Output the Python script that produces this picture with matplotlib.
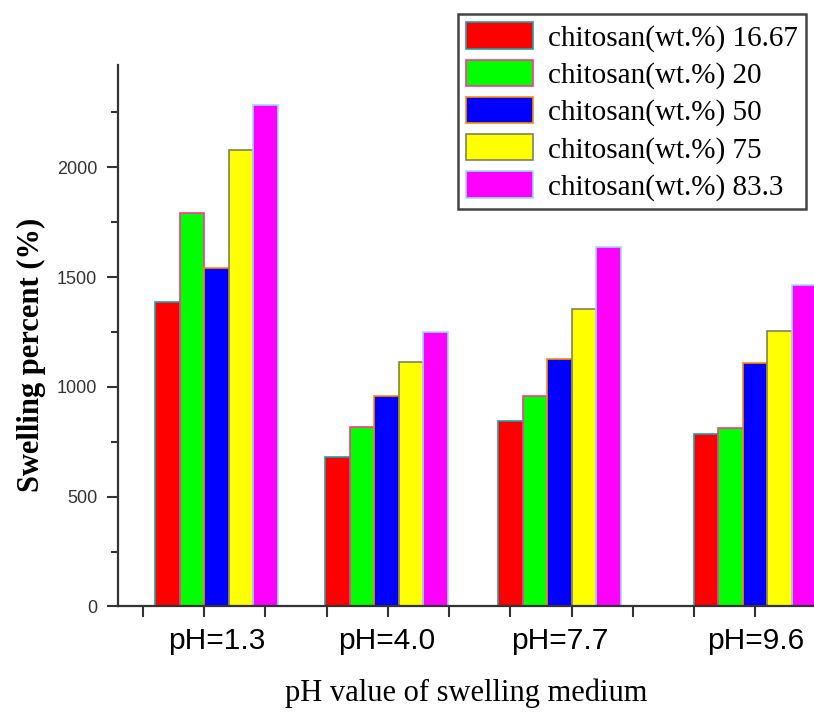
import numpy as np
import matplotlib
matplotlib.use('Agg')
import matplotlib.pyplot as plt
from matplotlib.ticker import MultipleLocator, FixedLocator, NullFormatter

categories = ['pH=1.3', 'pH=4.0', 'pH=7.7', 'pH=9.6']
series_labels = ['chitosan(wt.%) 16.67', 'chitosan(wt.%) 20', 'chitosan(wt.%) 50',
                 'chitosan(wt.%) 75', 'chitosan(wt.%) 83.3']
chitosan_16_67 = [1385, 682, 845, 784]
chitosan_20 = [1790, 819, 958, 811]
chitosan_50 = [1540, 960, 1126, 1107]
chitosan_75 = [2077, 1113, 1353, 1254]
chitosan_83_3 = [2286, 1251, 1637, 1464]

values = [chitosan_16_67, chitosan_20, chitosan_50, chitosan_75, chitosan_83_3]
fills = ['#ff0000', '#00ff00', '#0000ff', '#ffff00', '#ff00ff']
edges = ['#20a0a0', '#ff3399', '#ff8c00', '#808060', '#99ddff']

# group centres (origin style spacing)
centers = np.array([1.2, 3.98, 6.8, 10.0])
w = 0.4

fig = plt.figure(figsize=(8.14, 7.13), dpi=100)
ax = fig.add_axes([0.145, 0.1494, 0.855, 0.7594])

for i, (vals, fc, ec, lab) in enumerate(zip(values, fills, edges, series_labels)):
    ax.bar(centers + (i - 2) * w, vals, width=w, color=fc, edgecolor=ec,
           linewidth=1.2, label=lab, zorder=2)

ax.set_xlim(-0.408, 10.96)
ax.set_ylim(0, 2466)

for s in ['top', 'right']:
    ax.spines[s].set_visible(False)
for s in ['left', 'bottom']:
    ax.spines[s].set_linewidth(1.6)
    ax.spines[s].set_color('#333333')

ax.yaxis.set_major_locator(MultipleLocator(500))
ax.yaxis.set_minor_locator(MultipleLocator(250))
ax.tick_params(axis='y', which='major', direction='out', length=8, width=1.5,
               color='#333333', labelsize=13, labelcolor='#333333', pad=7)
ax.tick_params(axis='y', which='minor', direction='out', length=5, width=1.5, color='#333333')
for t in ax.get_yticklabels():
    t.set_family('Liberation Sans')

ax.xaxis.remove_overlapping_locs = False
ax.xaxis.set_major_locator(MultipleLocator(1))
ax.xaxis.set_major_formatter(NullFormatter())
ax.xaxis.set_minor_locator(FixedLocator(centers))
ax.set_xticklabels(categories, minor=True)
ax.tick_params(axis='x', which='major', direction='out', length=8, width=1.5, color='#333333')
ax.tick_params(axis='x', which='minor', length=0, labelsize=21.5, pad=15)
for t in ax.get_xticklabels(minor=True):
    t.set_family('Liberation Sans')

ax.set_ylabel('Swelling percent (%)', family='Liberation Serif', fontsize=22,
              fontweight='bold')
ax.yaxis.set_label_coords(-0.104, 0.464)
ax.set_xlabel('pH value of swelling medium', family='Liberation Serif', fontsize=22,
              labelpad=17)

leg = ax.legend(loc='upper right', bbox_to_anchor=(0.990, 0.980),
                bbox_transform=fig.transFigure, borderaxespad=0,
                prop={'family': 'Liberation Serif', 'size': 21},
                handlelength=2.3, handleheight=1.0, handletextpad=0.5,
                labelspacing=0.27, fancybox=False, framealpha=1,
                edgecolor='#444444', borderpad=0.28)
leg.get_frame().set_linewidth(1.8)

fig.savefig('out.png', dpi=100)
